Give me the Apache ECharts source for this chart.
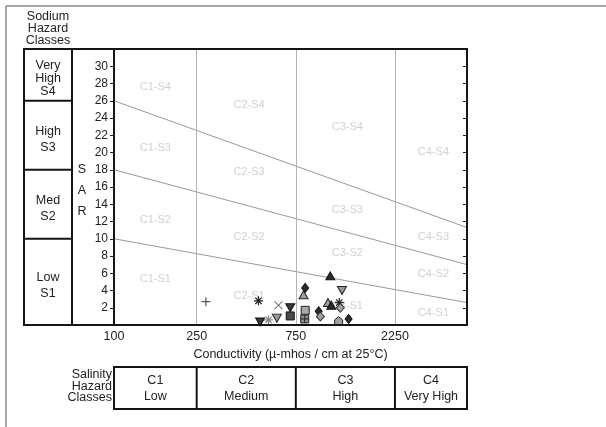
<!DOCTYPE html>
<html><head><meta charset="utf-8">
<script src="https://cdn.jsdelivr.net/npm/echarts@6/dist/echarts.min.js"></script>
<style>html,body{margin:0;padding:0;background:#fff}#c{width:606px;height:427px}</style>
</head><body><div id="c"></div>
<script>
// ---- data ----
const xTickLabels = [100, 250, 750, 2250];
const salinityBounds = [100, 250, 750, 2250, 5000];
const salinityClasses = ['C1\nLow', 'C2\nMedium', 'C3\nHigh', 'C4\nVery High'];
const sodiumBounds = [0, 10, 18, 26, 32];
const sodiumClasses = ['Low\nS1', 'Med\nS2', 'High\nS3', 'Very\nHigh\nS4'];
const lineS1S2 = [[100, 10], [5000, 2.6]];
const lineS2S3 = [[100, 18], [5000, 7.0]];
const lineS3S4 = [[100, 26], [5000, 11.3]];
const zoneLabels = [
  ['C1-S4', 158, 27.6], ['C1-S3', 158, 20.5], ['C1-S2', 158, 12.2], ['C1-S1', 158, 5.3],
  ['C2-S4', 447, 25.5], ['C2-S3', 447, 17.7], ['C2-S2', 447, 10.2], ['C2-S1', 447, 3.4],
  ['C3-S4', 1327, 23.0], ['C3-S3', 1327, 13.3], ['C3-S2', 1327, 8.3], ['C3-S1', 1327, 2.2],
  ['C4-S4', 3447, 20.1], ['C4-S3', 3447, 10.2], ['C4-S2', 3447, 5.9], ['C4-S1', 3447, 1.4]
];
const ptPlus = [[277, 2.7]];
const ptAsterisk = [[496, 2.8], [1214, 2.6]];
const ptCross = [[619, 2.3]];
const ptDarkDown = [[705, 2.0], [505, 0.35]];
const ptDarkSquare = [[705, 1.05]];
const ptGrayAsterisk = [[554, 0.6]];
const ptGrayDown = [[608, 0.8], [1251, 4.0]];
const ptDarkDiamond = [[832, 4.3], [966, 1.6], [1346, 0.7]];
const ptGrayTriangle = [[817, 3.5], [1071, 2.6]];
const ptGraySquare = [[832, 1.7]];
const ptCrossSquare = [[828, 0.7]];
const ptGrayDiamond = [[984, 1.0], [1228, 2.0]];
const ptDarkTriangle = [[1099, 5.7], [1111, 2.3]];
const ptGrayHouse = [[1205, 0.5]];

// ---- chart ----
const FONT = '"Liberation Sans", Arial, sans-serif';
const chart = echarts.init(document.getElementById('c'), null, {renderer: 'canvas'});

function pts(data, symbol, size, fill, stroke, bw) {
  return {
    type: 'scatter', data: data, symbol: symbol, symbolSize: size, z: 5,
    itemStyle: {color: fill, borderColor: stroke, borderWidth: bw, opacity: 1},
    emphasis: {disabled: true}, clip: false
  };
}
function boundary(data) {
  return {type: 'line', data: data, symbol: 'none', z: 3, silent: true,
    lineStyle: {color: '#9a9a9a', width: 1}};
}
const DOWN = 'path://M0,0L10,0L5,9Z';
const PLUS = 'path://M5,0V10M0,5H10';
const XS = 'path://M0,0L10,10M10,0L0,10';
const AST = 'path://M5,0V10M0,5H10M1.5,1.5L8.5,8.5M8.5,1.5L1.5,8.5';
const XSQ = 'path://M0,0H10V10H0ZM5,0V10M0,5H10';
const HOUSE = 'path://M5,0L10,4V10H0V4Z';
const NOFILL = 'rgba(0,0,0,0)';

const option = {
  animation: false,
  backgroundColor: '#fff',
  grid: {left: 114, top: 49, width: 353, height: 276, show: true,
    borderColor: '#151515', borderWidth: 2, backgroundColor: 'transparent', z: 10},
  xAxis: {
    type: 'log', logBase: 10, min: 100, max: 5000,
    axisLine: {show: false}, axisTick: {show: false},
    splitLine: {show: false}, minorTick: {show: false}, minorSplitLine: {show: false},
    axisLabel: {customValues: xTickLabels, color: '#222', fontSize: 12.5, fontFamily: FONT, margin: 5,
      formatter: v => String(Math.round(v))},
    name: 'Conductivity (\u00b5-mhos / cm at 25\u00b0C)', nameLocation: 'middle', nameGap: 22,
    nameTextStyle: {color: '#222', fontSize: 12.5, fontFamily: FONT}
  },
  yAxis: [{
    type: 'value', min: 0, max: 32, interval: 2, position: 'left',
    axisLine: {show: false}, splitLine: {show: false},
    axisTick: {show: true, length: 4, lineStyle: {color: '#222'}},
    axisLabel: {color: '#222', fontSize: 12, fontFamily: FONT, margin: 6,
      formatter: v => (v === 0 || v === 32) ? '' : String(v)}
  }, {
    type: 'value', min: 0, max: 32, interval: 2, position: 'right',
    axisLine: {show: false}, splitLine: {show: false},
    axisTick: {show: true, inside: true, length: 4, lineStyle: {color: '#222'}},
    axisLabel: {show: false}
  }],
  series: [
    {type: 'scatter', data: zoneLabels.map(d => ({name: d[0], value: [d[1], d[2]]})),
      symbolSize: 1, itemStyle: {color: NOFILL}, z: 1, silent: true,
      label: {show: true, position: 'inside', formatter: p => p.name,
        color: '#c6c6c6', fontSize: 11, fontFamily: FONT},
      markLine: {silent: true, symbol: 'none', label: {show: false},
        lineStyle: {color: '#b4b4b4', width: 1, type: 'solid'},
        data: xTickLabels.slice(1).map(v => ({xAxis: v}))}
    },
    boundary(lineS1S2), boundary(lineS2S3), boundary(lineS3S4),
    pts(ptPlus, PLUS, 9, NOFILL, '#333', 1),
    pts(ptAsterisk, AST, 9, NOFILL, '#222', 1.2),
    pts(ptCross, XS, 8, NOFILL, '#444', 1),
    pts(ptDarkDown, DOWN, [9, 8], '#3a3a3a', '#111', 1),
    pts(ptDarkSquare, 'rect', 8, '#4a4a4a', '#111', 1),
    pts(ptGrayAsterisk, AST, 9, NOFILL, '#888', 1.2),
    pts(ptGrayDown, DOWN, [9, 8], '#9a9a9a', '#222', 1),
    pts(ptDarkDiamond, 'diamond', [7, 9], '#2a2a2a', '#111', 1),
    pts(ptGrayTriangle, 'triangle', [9, 8], '#a0a0a0', '#222', 1),
    pts(ptGraySquare, 'rect', 8, '#a8a8a8', '#222', 1),
    pts(ptCrossSquare, XSQ, 8, '#909090', '#222', 1),
    pts(ptGrayDiamond, 'diamond', [8, 9], '#a0a0a0', '#333', 1),
    pts(ptDarkTriangle, 'triangle', [9, 8], '#2a2a2a', '#111', 1),
    pts(ptGrayHouse, HOUSE, 8, '#a0a0a0', '#222', 1)
  ]
};
chart.setOption(option);

// ---- side panels built from axis positions ----
const P = (x, y) => chart.convertToPixel({gridIndex: 0}, [x, y]);
const gTop = P(100, 32)[1], gBottom = P(100, 0)[1];
const gLeft = P(100, 0)[0], gRight = P(5000, 0)[0];
const LW = 2, LC = '#151515';
const panelL = 24, panelM = 72;
const g = [];
// outer frame
g.push({type: 'line', shape: {x1: 6, y1: 6, x2: 606, y2: 6}, style: {stroke: '#8a8a8a', lineWidth: 1.5}});
g.push({type: 'line', shape: {x1: 6, y1: 6, x2: 6, y2: 427}, style: {stroke: '#8a8a8a', lineWidth: 1.5}});
// Sodium hazard title
g.push({type: 'text', x: 48, y: 11, style: {text: 'Sodium\nHazard\nClasses', font: '12.5px ' + FONT,
  fill: '#222', align: 'center', verticalAlign: 'top', lineHeight: 12}});
// left panel
g.push({type: 'rect', shape: {x: panelL, y: gTop, width: gLeft - panelL, height: gBottom - gTop},
  style: {fill: 'none', stroke: LC, lineWidth: LW}});
g.push({type: 'line', shape: {x1: panelM, y1: gTop, x2: panelM, y2: gBottom}, style: {stroke: LC, lineWidth: LW}});
for (let i = 1; i < sodiumBounds.length - 1; i++) {
  const y = P(100, sodiumBounds[i])[1];
  g.push({type: 'line', shape: {x1: panelL, y1: y, x2: panelM, y2: y}, style: {stroke: LC, lineWidth: LW}});
}
for (let i = 0; i < sodiumClasses.length; i++) {
  const y0 = P(100, sodiumBounds[i])[1], y1 = P(100, sodiumBounds[i + 1])[1];
  const isTop = i === sodiumClasses.length - 1;
  g.push({type: 'text', x: (panelL + panelM) / 2, y: (y0 + y1) / 2 + 4,
    style: {text: sodiumClasses[i], font: '12.5px ' + FONT, fill: '#222', align: 'center',
      verticalAlign: 'middle', lineHeight: isTop ? 13 : 16}});
}
g.push({type: 'text', x: 82, y: 191, style: {text: 'S\nA\nR', font: '12.5px ' + FONT, fill: '#222',
  align: 'center', verticalAlign: 'middle', lineHeight: 21}});
// salinity panel
const sTop = 367, sBot = 409;
g.push({type: 'rect', shape: {x: gLeft, y: sTop, width: gRight - gLeft, height: sBot - sTop},
  style: {fill: 'none', stroke: LC, lineWidth: LW}});
for (let i = 1; i < salinityBounds.length - 1; i++) {
  const x = P(salinityBounds[i], 0)[0];
  g.push({type: 'line', shape: {x1: x, y1: sTop, x2: x, y2: sBot}, style: {stroke: LC, lineWidth: LW}});
}
for (let i = 0; i < salinityClasses.length; i++) {
  const x0 = P(salinityBounds[i], 0)[0], x1 = P(salinityBounds[i + 1], 0)[0];
  g.push({type: 'text', x: (x0 + x1) / 2, y: (sTop + sBot) / 2 + 1,
    style: {text: salinityClasses[i], font: '12.5px ' + FONT, fill: '#222', align: 'center',
      verticalAlign: 'middle', lineHeight: 16}});
}
g.push({type: 'text', x: gLeft - 2, y: 369, style: {text: 'Salinity\nHazard\nClasses', font: '12.5px ' + FONT,
  fill: '#222', align: 'right', verticalAlign: 'top', lineHeight: 11.5}});
chart.setOption({graphic: {elements: g.map(e => Object.assign({silent: true, z: 20}, e))}});
</script>
</body></html>
